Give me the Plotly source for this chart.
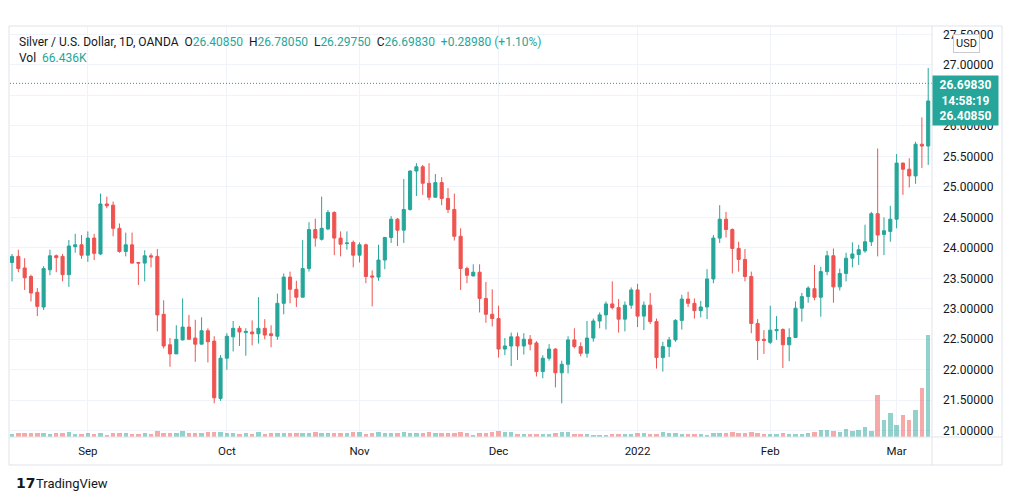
import pandas as pd
import plotly.graph_objects as go

# ---------------- data ----------------
all_days = pd.bdate_range("2021-08-16", "2022-03-08")
dates = [d for d in all_days if d != pd.Timestamp("2021-12-24")]

open_ = [23.76, 23.86, 23.67, 23.53, 23.27, 23.03, 23.64, 23.87, 23.86, 23.56,
         24.02, 24.05, 23.88, 24.16, 23.90, 24.72, 24.70, 24.32, 23.94, 24.05,
         23.76, 23.75, 23.87, 23.86, 22.91, 22.41, 22.26, 22.49, 22.70, 22.52,
         22.42, 22.64, 22.47, 21.53, 22.19, 22.54, 22.68, 22.61, 22.62, 22.59,
         22.68, 22.59, 22.55, 23.09, 23.52, 23.32, 23.19, 23.66, 24.30, 24.14,
         24.31, 24.58, 24.16, 24.07, 24.09, 23.88, 24.05, 23.54, 23.52, 23.80,
         24.17, 24.47, 24.29, 24.63, 25.26, 25.33, 25.06, 24.83, 25.07, 24.81,
         24.63, 24.19, 23.66, 23.54, 23.60, 23.17, 22.91, 22.84, 22.34, 22.39,
         22.54, 22.39, 22.50, 22.44, 21.97, 22.19, 22.34, 21.95, 22.09, 22.49,
         22.38, 22.27, 22.52, 22.80, 22.90, 23.08, 23.02, 22.83, 23.06, 23.31,
         22.88, 23.06, 22.79, 22.20, 22.38, 22.49, 22.81, 23.16, 23.09, 22.97,
         23.03, 23.49, 24.16, 24.47, 24.30, 23.99, 23.81, 23.53, 22.76, 22.50,
         22.45, 22.64, 22.66, 22.41, 22.53, 23.01, 23.20, 23.33, 23.19, 23.61,
         23.87, 23.36, 23.58, 23.83, 23.89, 23.95, 24.10, 24.56, 24.22, 24.27,
         24.47, 25.39, 25.29, 25.18, 25.70, 25.67]

high = [23.90, 23.97, 23.83, 23.56, 23.34, 23.70, 23.97, 23.89, 23.90, 24.13,
        24.23, 24.21, 24.27, 24.23, 24.89, 24.84, 24.76, 24.40, 24.25, 24.25,
        23.77, 23.96, 23.91, 23.98, 23.14, 22.52, 22.73, 23.17, 22.90, 22.82,
        22.86, 22.68, 22.55, 22.24, 22.60, 22.80, 22.72, 22.68, 22.81, 23.19,
        22.83, 22.73, 23.25, 23.58, 23.61, 23.46, 24.13, 24.42, 24.48, 24.84,
        24.62, 24.60, 24.27, 24.27, 24.12, 24.09, 24.07, 23.63, 24.05, 24.18,
        24.52, 24.49, 25.13, 25.27, 25.39, 25.36, 25.39, 25.21, 25.16, 24.98,
        24.89, 24.32, 23.69, 23.73, 23.73, 23.44, 23.32, 23.05, 22.52, 22.61,
        22.61, 22.60, 22.57, 22.47, 22.24, 22.42, 22.35, 22.15, 22.55, 22.68,
        22.45, 22.80, 22.84, 22.94, 23.12, 23.45, 23.16, 23.12, 23.35, 23.41,
        23.12, 23.26, 22.84, 22.46, 22.54, 22.83, 23.23, 23.28, 23.17, 23.13,
        23.65, 24.21, 24.70, 24.59, 24.32, 24.10, 23.98, 23.61, 22.83, 22.65,
        23.05, 22.88, 22.68, 22.68, 23.12, 23.26, 23.37, 23.72, 23.69, 23.95,
        23.99, 23.66, 23.92, 24.09, 24.05, 24.38, 24.59, 25.63, 24.50, 24.69,
        25.54, 25.40, 25.47, 25.74, 26.14, 26.95]

low = [23.45, 23.60, 23.31, 23.12, 22.88, 22.98, 23.55, 23.60, 23.45, 23.36,
       23.92, 23.82, 23.77, 23.80, 23.88, 24.65, 24.19, 23.92, 23.86, 23.74,
       23.39, 23.45, 23.68, 22.63, 22.35, 22.05, 22.26, 22.48, 22.49, 22.13,
       22.42, 22.12, 21.45, 21.49, 22.00, 22.30, 22.39, 22.23, 22.40, 22.43,
       22.50, 22.37, 22.49, 22.91, 23.09, 23.03, 23.19, 23.61, 24.02, 24.12,
       24.29, 23.88, 23.86, 23.97, 23.68, 23.76, 23.42, 23.04, 23.46, 23.65,
       24.08, 24.03, 24.08, 24.61, 24.85, 24.87, 24.78, 24.83, 24.70, 24.57,
       24.12, 23.31, 23.42, 23.53, 22.94, 22.77, 22.71, 22.20, 22.24, 22.06,
       22.16, 22.25, 22.32, 21.89, 21.86, 22.15, 21.71, 21.45, 21.94, 22.35,
       22.22, 22.20, 22.46, 22.68, 22.66, 22.99, 22.61, 22.63, 23.00, 22.70,
       22.65, 22.75, 22.02, 21.97, 22.21, 22.46, 22.66, 23.03, 22.84, 22.86,
       22.83, 23.42, 24.08, 24.17, 23.58, 23.61, 23.45, 22.60, 22.16, 22.26,
       22.42, 22.49, 22.03, 22.14, 22.52, 22.79, 23.10, 23.14, 22.87, 23.55,
       23.10, 23.30, 23.45, 23.68, 23.72, 23.92, 24.03, 23.86, 23.88, 24.10,
       24.32, 24.87, 24.99, 25.05, 25.31, 25.36]

close = [23.86, 23.66, 23.51, 23.26, 23.04, 23.66, 23.87, 23.84, 23.56, 24.03,
         24.05, 23.88, 24.16, 23.91, 24.72, 24.69, 24.32, 23.94, 24.05, 23.75,
         23.75, 23.87, 23.85, 22.90, 22.39, 22.26, 22.50, 22.70, 22.50, 22.42,
         22.64, 22.46, 21.54, 22.19, 22.55, 22.68, 22.62, 22.63, 22.59, 22.68,
         22.57, 22.56, 23.09, 23.52, 23.32, 23.19, 23.66, 24.30, 24.16, 24.32,
         24.58, 24.16, 24.06, 24.08, 23.88, 24.05, 23.53, 23.52, 23.80, 24.17,
         24.47, 24.29, 24.63, 25.26, 25.33, 25.06, 24.83, 25.07, 24.81, 24.63,
         24.19, 23.66, 23.55, 23.60, 23.17, 22.91, 22.84, 22.34, 22.39, 22.54,
         22.39, 22.50, 22.42, 21.97, 22.19, 22.34, 21.95, 22.09, 22.49, 22.38,
         22.27, 22.52, 22.80, 22.90, 23.08, 23.02, 22.83, 23.06, 23.31, 22.88,
         23.06, 22.79, 22.20, 22.38, 22.49, 22.81, 23.16, 23.09, 22.97, 23.03,
         23.49, 24.16, 24.47, 24.30, 23.99, 23.81, 23.53, 22.76, 22.48, 22.48,
         22.65, 22.66, 22.41, 22.53, 23.01, 23.20, 23.34, 23.19, 23.61, 23.87,
         23.36, 23.58, 23.83, 23.90, 23.97, 24.10, 24.56, 24.21, 24.28, 24.47,
         25.39, 25.29, 25.18, 25.70, 25.67, 26.41]

volume_k = [1.9, 2.6, 2.6, 2.6, 2.6, 2.6, 1.9, 2.6, 2.6, 3.2, 1.9, 1.9, 2.6, 1.9, 2.6, 1.3, 2.6,
            2.6, 2.6, 1.9, 1.9, 2.6, 1.9, 3.9, 2.6, 2.6, 2.6, 3.9, 2.6, 2.6, 2.6, 3.2, 3.2,
            3.2, 2.6, 2.6, 1.9, 2.6, 1.9, 3.2, 1.9, 2.6, 2.6, 2.6, 2.6, 2.6, 2.6, 2.6, 3.2, 2.6,
            2.6, 2.6, 2.6, 2.6, 3.2, 3.2, 1.9, 2.6, 3.2, 2.6, 2.6, 2.6, 3.2, 2.6, 2.6, 2.6,
            3.2, 2.6, 2.6, 2.6, 2.6, 3.2, 2.6, 1.3, 2.6, 2.6, 3.2, 3.9, 3.2, 3.2, 1.9, 1.9, 1.9,
            1.9, 1.9, 1.9, 2.6, 3.2, 3.2, 1.9, 1.9, 1.9, 1.3, 1.3, 1.3, 1.9, 1.9, 1.9, 1.9,
            2.6, 2.6, 1.9, 1.9, 3.2, 2.6, 2.6, 1.9, 1.9, 1.9, 1.9, 1.3, 2.6, 2.6, 2.6, 3.2,
            2.6, 2.6, 3.2, 2.6, 1.9, 1.9, 1.9, 2.6, 1.9, 1.9, 1.9, 2.6, 3.2, 4.5, 4.5, 3.9,
            3.2, 5.2, 3.9, 4.5, 6.5, 3.9, 27.1, 11.0, 15.5, 7.7, 14.2, 11.0, 17.4, 31.6, 66.4]

month_labels = ["Sep", "Oct", "Nov", "Dec", "2022", "Feb", "Mar"]
price_ticks = [21.0, 21.5, 22.0, 22.5, 23.0, 23.5, 24.0, 24.5, 25.0, 25.5, 26.0, 26.5, 27.0, 27.5]
hidden_tick_labels = [26.5]  # fully covered by the last-price label in the reference

last_price = 26.69830
header_ohlc = ["26.40850", "26.78050", "26.29750", "26.69830"]
header_change = "+0.28980 (+1.10%)"
header_vol = "66.436K"

# ---------------- styling ----------------
UP = "#26a69a"
DOWN = "#ef5350"
UP_VOL = "rgba(38,166,154,0.5)"
DOWN_VOL = "rgba(239,83,80,0.5)"
TXT = "#131722"
GRID = "#f0f3fa"
BORDER = "#e0e3eb"
FONT = "Roboto"

idx = list(range(len(dates)))
month_idx = [i for i in range(1, len(dates)) if dates[i].month != dates[i - 1].month]

vol_colors = [UP_VOL if c >= o else DOWN_VOL for o, c in zip(open_, close)]

fig = go.Figure()
fig.add_trace(go.Bar(x=idx, y=volume_k, marker=dict(color=vol_colors, line=dict(width=0)),
                     width=0.7, yaxis="y2", hoverinfo="skip", showlegend=False))
fig.add_trace(go.Candlestick(
    x=idx, open=open_, high=high, low=low, close=close,
    increasing=dict(line=dict(color=UP, width=1), fillcolor=UP),
    decreasing=dict(line=dict(color=DOWN, width=1), fillcolor=DOWN),
    whiskerwidth=0, showlegend=False, yaxis="y"))

L, R, T, B = 10, 80, 27, 64
W, H = 1012, 501
pw, ph = W - L - R, H - T - B


def px_x(p):
    return (p - L) / pw


def px_y(p):
    return (H - B - p) / ph


fig.update_layout(
    width=W, height=H,
    margin=dict(l=L, r=R, t=T, b=B),
    paper_bgcolor="white", plot_bgcolor="white",
    font=dict(family=FONT, size=12, color=TXT),
    bargap=0,
    xaxis=dict(range=[-0.32, 145.6], tickvals=month_idx, ticktext=month_labels,
               showgrid=True, gridcolor=GRID, gridwidth=1, zeroline=False,
               ticks="", tickfont=dict(size=11.5, color=TXT), ticklabelstandoff=5,
               rangeslider=dict(visible=False), showline=False, fixedrange=True),
    yaxis=dict(range=[20.897, 27.623], side="right", tickvals=price_ticks,
               ticktext=["" if v in hidden_tick_labels else f"{v:.5f}" for v in price_ticks],
               showgrid=True, gridcolor=GRID, gridwidth=1, zeroline=False,
               ticks="", tickfont=dict(size=12, color=TXT), ticklabelstandoff=10,
               showline=False),
    yaxis2=dict(range=[0, 265.6], overlaying="y", visible=False, showgrid=False),
)

shapes = []
# last price dotted line
shapes.append(dict(type="line", xref="paper", x0=0, x1=1, yref="y", y0=last_price, y1=last_price,
                   line=dict(color="#3f8f89", width=1, dash="1px,2px")))
# frame lines
shapes.append(dict(type="rect", xref="paper", yref="paper",
                   x0=px_x(9), x1=px_x(1002), y0=px_y(465), y1=px_y(26),
                   line=dict(color=BORDER, width=1)))
shapes.append(dict(type="line", xref="paper", yref="paper", x0=1, x1=1,
                   y0=px_y(465), y1=px_y(26), line=dict(color=BORDER, width=1)))
shapes.append(dict(type="line", xref="paper", yref="paper", x0=px_x(9), x1=px_x(1002),
                   y0=0, y1=0, line=dict(color=BORDER, width=1)))
fig.update_layout(shapes=shapes)

teal_span = "<span style='color:%s'>%%s</span>" % UP
header = ("Silver / U.S. Dollar, 1D, OANDA&nbsp;&nbsp;"
          "O" + teal_span % header_ohlc[0] + "&nbsp;&nbsp;"
          "H" + teal_span % header_ohlc[1] + "&nbsp;&nbsp;"
          "L" + teal_span % header_ohlc[2] + "&nbsp;&nbsp;"
          "C" + teal_span % header_ohlc[3] + "&nbsp;&nbsp;"
          + teal_span % header_change)

annotations = [
    dict(text=header, xref="paper", yref="paper", x=px_x(17), y=px_y(42),
         xanchor="left", yanchor="middle", showarrow=False, font=dict(size=12, color=TXT)),
    dict(text="Vol&nbsp;&nbsp;" + teal_span % header_vol, xref="paper", yref="paper",
         x=px_x(17), y=px_y(58), xanchor="left", yanchor="middle", showarrow=False,
         font=dict(size=12, color=TXT)),
    dict(text="USD", xref="paper", yref="paper", x=px_x(966), y=px_y(43),
         xanchor="center", yanchor="middle", showarrow=False,
         font=dict(size=11, color=TXT), bgcolor="white", bordercolor="#c9ccd4",
         borderwidth=1, borderpad=2),
    dict(text="<b>26.69830</b><br><b>14:58:19</b><br><b>26.40850</b>", xref="paper", yref="paper",
         x=px_x(932), y=px_y(75), xanchor="left", yanchor="top", showarrow=False,
         font=dict(size=12, color="white"), bgcolor=UP, borderpad=2, width=61, align="center"),
    dict(text="<b>17</b>", xref="paper", yref="paper", x=px_x(14), y=px_y(483),
         xanchor="left", yanchor="middle", showarrow=False,
         font=dict(size=14, color=TXT, family="DejaVu Sans")),
    dict(text="TradingView", xref="paper", yref="paper", x=px_x(34), y=px_y(483),
         xanchor="left", yanchor="middle", showarrow=False,
         font=dict(size=13, color=TXT)),
]
fig.update_layout(annotations=annotations)

fig.write_html("out.html", config={"displayModeBar": False},
               post_script="document.body.style.margin='0';document.body.style.overflow='hidden';")
